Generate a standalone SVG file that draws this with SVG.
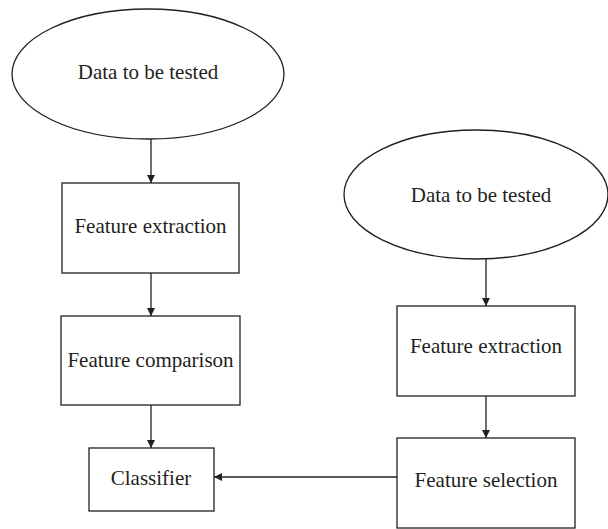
<svg xmlns="http://www.w3.org/2000/svg" width="608" height="529" viewBox="0 0 608 529">
  <style>
    .shape { fill: #ffffff; stroke: #231f20; stroke-width: 1.3; }
    .label { font-family: "Liberation Serif", "Times New Roman", serif; font-size: 21px; fill: #231f20; text-anchor: middle; }
    .edge { fill: none; stroke: #231f20; stroke-width: 1.3; marker-end: url(#arrow); }
  </style>
  <defs>
    <marker id="arrow" viewBox="0 0 10 10" refX="10" refY="5" markerUnits="userSpaceOnUse" markerWidth="8" markerHeight="9" orient="auto">
      <path d="M0,0 L10,5 L0,10 z" fill="#231f20"/>
    </marker>
  </defs>
  <rect width="608" height="529" fill="#ffffff"/>

  <g id="edges">
    <line class="edge" x1="151" y1="139" x2="151" y2="183"/>
    <line class="edge" x1="151" y1="273" x2="151" y2="316"/>
    <line class="edge" x1="151" y1="405" x2="151" y2="448"/>
    <line class="edge" x1="486" y1="259" x2="486" y2="306"/>
    <line class="edge" x1="486" y1="396" x2="486" y2="438"/>
    <line class="edge" x1="397" y1="477" x2="214" y2="477"/>
  </g>

  <g id="data-left">
    <ellipse class="shape" cx="148" cy="74" rx="136" ry="65"/>
    <text class="label" x="148" y="79">Data to be tested</text>
  </g>
  <g id="extraction-left">
    <rect class="shape" x="62" y="183" width="177" height="90"/>
    <text class="label" x="150.5" y="233">Feature extraction</text>
  </g>
  <g id="comparison">
    <rect class="shape" x="61" y="316" width="179" height="89"/>
    <text class="label" x="150.5" y="367">Feature comparison</text>
  </g>
  <g id="classifier">
    <rect class="shape" x="89" y="448" width="125" height="63"/>
    <text class="label" x="151" y="485">Classifier</text>
  </g>

  <g id="data-right">
    <ellipse class="shape" cx="476" cy="194.5" rx="132" ry="64.5"/>
    <text class="label" x="481" y="202">Data to be tested</text>
  </g>
  <g id="extraction-right">
    <rect class="shape" x="397" y="306" width="178" height="90"/>
    <text class="label" x="486" y="353">Feature extraction</text>
  </g>
  <g id="selection">
    <rect class="shape" x="397" y="438" width="178" height="90"/>
    <text class="label" x="486" y="487">Feature selection</text>
  </g>
</svg>
